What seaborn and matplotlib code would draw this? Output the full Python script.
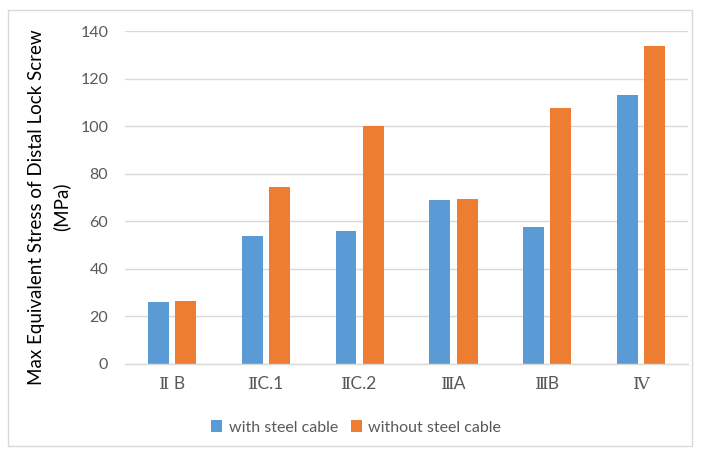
import matplotlib
matplotlib.use("Agg")
import matplotlib.pyplot as plt
from matplotlib.patches import Rectangle
from matplotlib.ticker import FixedLocator
import seaborn as sns
import pandas as pd

categories = ["Ⅱ B", "ⅡC.1", "ⅡC.2", "ⅢA", "ⅢB", "Ⅳ"]
with_cable = [25.8, 53.8, 55.9, 69.0, 57.7, 113.3]
without_cable = [26.3, 74.5, 100.2, 69.4, 107.7, 133.7]
series_names = ["with steel cable", "without steel cable"]
y_ticks = [0, 20, 40, 60, 80, 100, 120, 140]
y_title = ["Max Equivalent Stress of Distal Lock Screw", "(MPa)"]

df = pd.DataFrame({
    "category": categories * 2,
    "value": with_cable + without_cable,
    "series": [series_names[0]] * len(categories) + [series_names[1]] * len(categories),
})

sns.set_theme(style="white")
plt.rcParams["font.family"] = ["Lato", "DejaVu Serif"]

fig = plt.figure(figsize=(7.01, 4.51), dpi=100)
ax = fig.add_axes([0.1783, 0.194, 0.8032, 0.7366])

sns.barplot(
    data=df, x="category", y="value", hue="series", order=categories,
    hue_order=series_names, palette=["#5B9BD5", "#ED7D31"],
    width=0.58, gap=0.23, saturation=1, linewidth=0, ax=ax,
)

ax.set_ylim(0, 140)
ax.set_xlim(-0.5, len(categories) - 0.5)
ax.set_yticks(y_ticks)
ax.yaxis.grid(True, color="#d9d9d9", linewidth=1)
ax.set_axisbelow(True)
for s in ["left", "right", "top"]:
    ax.spines[s].set_visible(False)
ax.spines["bottom"].set_color("#d9d9d9")
ax.spines["bottom"].set_linewidth(1)

ax.tick_params(axis="y", length=0, labelsize=11.5, labelcolor="#595959", pad=12)
ax.tick_params(axis="x", which="major", length=0, labelsize=12.5, labelcolor="#595959", pad=9)
ax.xaxis.set_minor_locator(FixedLocator([i - 0.5 for i in range(len(categories) + 1)]))
ax.tick_params(axis="x", which="minor", length=5, color="#d9d9d9", width=1, direction="out")

ax.set_xlabel("")
ax.set_ylabel("")
ax.get_legend().remove()

# two-line vertical axis title, each line centred on the plot height
fig.text(37 / 701, 1 - 207 / 451, y_title[0], fontsize=13.5, color="black",
         rotation=90, ha="center", va="center")
fig.text(61 / 701, 1 - 207 / 451, y_title[1], fontsize=13.5, color="black",
         rotation=90, ha="center", va="center")

handles, labels = ax.get_legend_handles_labels()
leg = fig.legend(handles, labels, loc="center", bbox_to_anchor=(0.508, 0.052), ncol=2,
                 frameon=False, fontsize=11.5, handlelength=0.7, handleheight=0.7,
                 handletextpad=0.4, columnspacing=0.8)
for t in leg.get_texts():
    t.set_color("#595959")

fig.patches.append(Rectangle((8 / 701, 1 - 446 / 451), 684 / 701, 436 / 451,
                             transform=fig.transFigure, fill=False,
                             edgecolor="#d9d9d9", linewidth=1))

fig.savefig("out.png", dpi=100)
